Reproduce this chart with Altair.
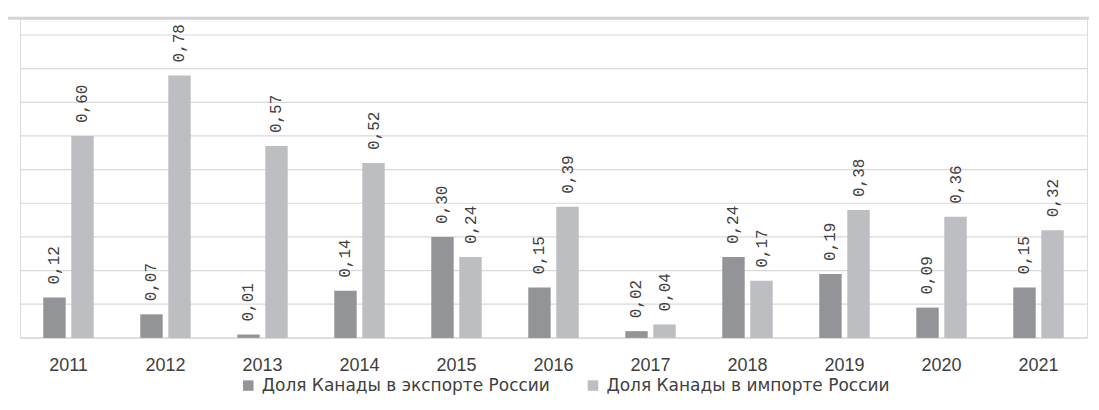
import altair as alt
import pandas as pd

years = ["2011", "2012", "2013", "2014", "2015", "2016", "2017", "2018", "2019", "2020", "2021"]
export_share = [0.12, 0.07, 0.01, 0.14, 0.30, 0.15, 0.02, 0.24, 0.19, 0.09, 0.15]
import_share = [0.60, 0.78, 0.57, 0.52, 0.24, 0.39, 0.04, 0.17, 0.38, 0.36, 0.32]
series_names = ["Доля Канады в экспорте России", "Доля Канады в импорте России"]
series_colors = ["#939497", "#bdbec1"]
grid_values = [0, 0.1, 0.2, 0.3, 0.4, 0.5, 0.6, 0.7, 0.8, 0.9]

rows = []
for i, y in enumerate(years):
    rows.append({"year": y, "series": series_names[0], "value": export_share[i],
                 "label": f"{export_share[i]:.2f}".replace(".", ",")})
    rows.append({"year": y, "series": series_names[1], "value": import_share[i],
                 "label": f"{import_share[i]:.2f}".replace(".", ",")})
df = pd.DataFrame(rows)

yscale = alt.Scale(domain=[0, 0.95], nice=False, zero=True)

x_enc = alt.X("year:N", sort=years, title=None,
              scale=alt.Scale(paddingInner=0.48, paddingOuter=0.24),
              axis=alt.Axis(labelAngle=0, labelFontSize=18, labelColor="#404040",
                            labelFont="Liberation Sans", labelPadding=19,
                            domain=False, ticks=False, grid=False))
xo_enc = alt.XOffset("series:N", sort=series_names, scale=alt.Scale(paddingInner=0.2))
y_enc = alt.Y("value:Q", title=None, scale=yscale, axis=None)

grid = alt.Chart(pd.DataFrame({"g": grid_values})).mark_rule(
    color="#d9d9d9", strokeWidth=1.2
).encode(y=alt.Y("g:Q", scale=yscale, axis=None))

top_line = alt.Chart(pd.DataFrame({"v": [0.95]})).mark_rule(
    color="#d4d4d4", strokeWidth=3, clip=False
).encode(y=alt.Y("v:Q", scale=yscale, axis=None), x=alt.value(-12), x2=alt.value(1070))

base = alt.Chart(df).encode(x=x_enc, xOffset=xo_enc, y=y_enc)

bars = base.mark_bar().encode(
    color=alt.Color("series:N", sort=series_names,
                    scale=alt.Scale(domain=series_names, range=series_colors),
                    legend=alt.Legend(title=None, orient="none", direction="horizontal",
                                      legendX=220, legendY=359,
                                      symbolType="square", symbolSize=110,
                                      symbolStrokeWidth=0,
                                      labelFontSize=17, labelFont="DejaVu Sans",
                                      labelColor="#404040", labelLimit=400,
                                      labelOffset=5, columnPadding=34))
)

texts = base.mark_text(angle=270, align="left", baseline="middle", dx=13,
                       font="Liberation Mono", fontSize=16, color="#404040").encode(
    text="label:N"
)

chart = alt.layer(grid, top_line, bars, texts).properties(
    width=1068, height=320,
    padding={"left": 12, "top": 10, "right": 4, "bottom": 60},
    autosize=alt.AutoSizeParams(type="none"),
).configure_view(stroke=None).configure(background="white")

chart.save("out.html", embed_options={"renderer": "svg", "actions": False})
